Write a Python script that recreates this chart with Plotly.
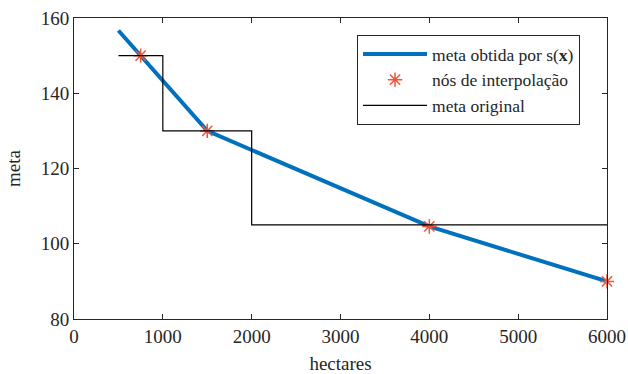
import plotly.graph_objects as go

# data
spline_x = [500, 750, 1500, 4000, 6000]
spline_y = [156.67, 150, 130, 104.6, 90]
nodes_x = [750, 1500, 4000, 6000]
nodes_y = [150, 130, 104.6, 90]
orig_x = [500, 1000, 1000, 2000, 2000, 6000]
orig_y = [150, 150, 130, 130, 105, 105]
x_ticks = [0, 1000, 2000, 3000, 4000, 5000, 6000]
y_ticks = [80, 100, 120, 140, 160]

FONT = "Liberation Serif"
TXT = "#262626"

fig = go.Figure()
fig.add_trace(go.Scatter(x=spline_x, y=spline_y, mode="lines",
                         line=dict(color="#0072BD", width=4),
                         name="meta obtida por s(<b>x</b>)"))
fig.add_trace(go.Scatter(x=nodes_x, y=nodes_y, mode="markers",
                         marker=dict(symbol="asterisk-open", size=12,
                                     line=dict(color="#FF1A1A", width=1.5)),
                         name="nós de interpolação", cliponaxis=False))
fig.add_trace(go.Scatter(x=orig_x, y=orig_y, mode="lines",
                         line=dict(color="black", width=1.2),
                         name="meta original"))

fig.update_layout(
    width=628, height=374,
    margin=dict(l=74, r=21, t=18, b=55),
    plot_bgcolor="white", paper_bgcolor="white",
    font=dict(family=FONT, size=19, color=TXT),
    legend=dict(x=0.531, y=0.9435, xanchor="left", yanchor="top",
                bordercolor=TXT, borderwidth=1, bgcolor="white",
                font=dict(size=17.5, family=FONT, color=TXT),
                tracegroupgap=0, itemwidth=64),
    showlegend=True,
)
fig.update_xaxes(range=[0, 6000], tickvals=x_ticks, ticks="inside", ticklen=5,
                 showline=True, linecolor=TXT, linewidth=1, mirror="ticks",
                 showgrid=False, zeroline=False, tickcolor=TXT, automargin=False,
                 tickfont=dict(family=FONT, size=19, color=TXT),
                 title=dict(text="hectares",
                            font=dict(family=FONT, size=19, color=TXT)))
fig.update_yaxes(range=[80, 160], tickvals=y_ticks, ticks="inside", ticklen=5,
                 showline=True, linecolor=TXT, linewidth=1, mirror="ticks",
                 showgrid=False, zeroline=False, tickcolor=TXT, automargin=False,
                 tickfont=dict(family=FONT, size=19, color=TXT),
                 title=dict(text="meta",
                            font=dict(family=FONT, size=19, color=TXT)))

fig.write_html("out.html", config={"displayModeBar": False},
               post_script="document.body.style.margin='0';document.body.style.padding='0';")
